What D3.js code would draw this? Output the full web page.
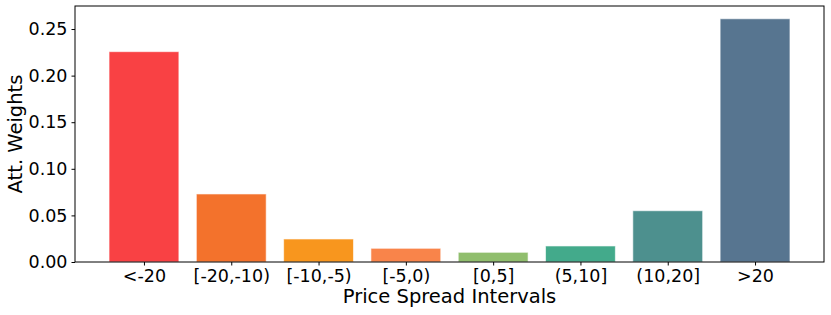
<!DOCTYPE html>
<html>
<head>
<meta charset="utf-8">
<script src="https://cdn.jsdelivr.net/npm/d3@7"></script>
<style>
  body { margin: 0; background: #fff; }
  text { font-family: "DejaVu Sans", sans-serif; fill: #000; }
</style>
</head>
<body>
<div id="container"></div>
<script>
// data
const intervals = ["<-20", "[-20,-10)", "[-10,-5)", "[-5,0)", "[0,5]", "(5,10]", "(10,20]", ">20"];
const weights = [0.2257, 0.0730, 0.0247, 0.0147, 0.0104, 0.0172, 0.0550, 0.2610];
const barColors = ["#f94144", "#f3722c", "#f8961e", "#f9844a", "#90be6d", "#43aa8b", "#4d908e", "#577590"];
const yTicks = [0, 0.05, 0.10, 0.15, 0.20, 0.25];

const width = 831, height = 315;
const margin = {top: 6, right: 7, bottom: 53, left: 75};

const svg = d3.select("#container").append("svg")
  .attr("width", width)
  .attr("height", height);

// x as index scale like matplotlib bar (width 0.8, 5% margins)
const xScale = d3.scaleLinear()
  .domain([-0.79, intervals.length - 1 + 0.79])
  .range([margin.left, width - margin.right]);

const yScale = d3.scaleLinear()
  .domain([0, 0.2747])
  .range([height - margin.bottom, margin.top]);

const barW = 0.8;

// bars
svg.selectAll(".bar")
  .data(weights)
  .enter()
  .append("rect")
    .attr("class", "bar")
    .attr("x", (d, i) => xScale(i - barW / 2))
    .attr("y", d => yScale(d))
    .attr("width", (d, i) => xScale(i + barW / 2) - xScale(i - barW / 2))
    .attr("height", d => yScale(0) - yScale(d))
    .attr("fill", (d, i) => barColors[i])
    .attr("stroke", "#ffffff")
    .attr("stroke-opacity", 0.6)
    .attr("stroke-width", 1);

// axes
const xAxis = d3.axisBottom(xScale)
  .tickValues(d3.range(intervals.length))
  .tickFormat(i => intervals[i])
  .tickSize(3.5)
  .tickPadding(4);

const yAxis = d3.axisLeft(yScale)
  .tickValues(yTicks)
  .tickFormat(d3.format(".2f"))
  .tickSize(3.5)
  .tickPadding(4);

const xg = svg.append("g")
  .attr("transform", `translate(0,${height - margin.bottom})`)
  .call(xAxis);
xg.select(".domain").remove();
xg.selectAll("text").style("font-size", "17.5px");

const yg = svg.append("g")
  .attr("transform", `translate(${margin.left},0)`)
  .call(yAxis);
yg.select(".domain").remove();
yg.selectAll("text").style("font-size", "17.5px");

// frame
svg.append("rect")
  .attr("x", margin.left)
  .attr("y", margin.top)
  .attr("width", width - margin.left - margin.right)
  .attr("height", height - margin.top - margin.bottom)
  .attr("fill", "none")
  .attr("stroke", "#000")
  .attr("stroke-width", 1);

// axis labels
svg.append("text")
  .attr("x", (margin.left + width - margin.right) / 2)
  .attr("y", 303)
  .attr("text-anchor", "middle")
  .style("font-size", "19.5px")
  .text("Price Spread Intervals");

svg.append("text")
  .attr("transform", `translate(22,${(margin.top + height - margin.bottom) / 2}) rotate(-90)`)
  .attr("text-anchor", "middle")
  .style("font-size", "19.5px")
  .text("Att. Weights");
</script>
</body>
</html>
